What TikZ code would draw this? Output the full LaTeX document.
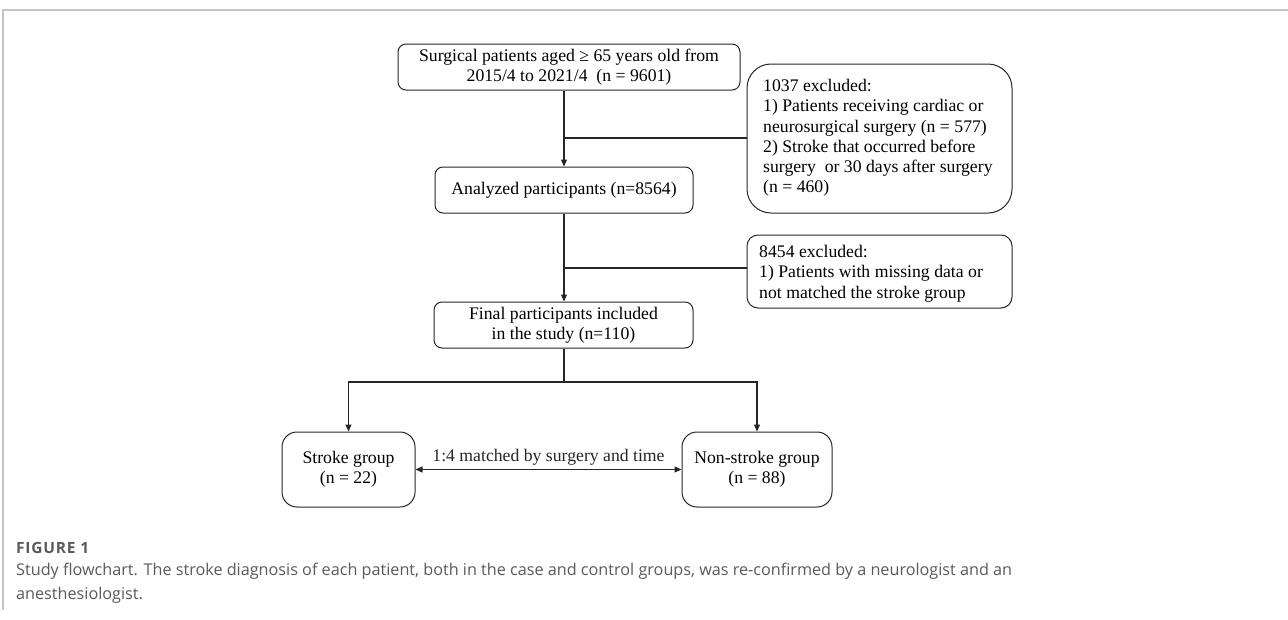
\documentclass[tikz,border=0pt]{standalone}
\usepackage{fontspec}
\setmainfont{Liberation Serif}
\newfontfamily\capfont{Open Sans}
\usepackage{tikz}
\usetikzlibrary{arrows.meta}
\definecolor{framegray}{HTML}{C4C4C4}
\definecolor{capgray}{HTML}{5A5A5A}
\definecolor{linegray}{HTML}{262626}
\tikzset{every node/.style={font=\fontsize{17.7}{20.3}\selectfont},
  flow/.style={linegray,line width=1.2pt,-{Triangle[length=7pt,width=6pt]}},
  link/.style={linegray,line width=1.2pt}}
\newcommand{\boxnode}{\node[draw=linegray,line width=1pt,rounded corners=8pt,align=center,inner sep=0pt]}
\newcommand{\exclnode}{\node[draw=linegray,line width=1pt,align=left,inner sep=0pt,text depth=0pt]}

\begin{document}
\begin{tikzpicture}[x=1pt,y=-1pt]
      \useasboundingbox (0,0) rectangle (1288,619);
      \draw[framegray,line width=2pt] (3,610) -- (3,10) -- (1288,10); % frame
      \boxnode[minimum width=342pt,minimum height=46pt] (all) at (569,67) {Surgical patients aged ≥ 65 years old from\\2015/4 to 2021/4\ \ (n = 9601)};
      \exclnode[rounded corners=24pt,minimum width=265pt,minimum height=149pt] (excl1) at (879.5,138.5) {};
      \node[anchor=north west,align=left,inner sep=0pt] (excltext1) at (763,79) {1037 excluded:\\1) Patients receiving cardiac or\\neurosurgical surgery (n = 577)\\2) Stroke that occurred before\\surgery\ \ or 30 days after surgery\\(n = 460)};
      \boxnode[minimum width=258pt,minimum height=46pt] (analyzed) at (564,190) {Analyzed participants (n=8564)};
      \exclnode[rounded corners=11pt,minimum width=265pt,minimum height=73pt] (excl2) at (879.5,271.5) {};
      \node[anchor=north west,align=left,inner sep=0pt] (excltext2) at (759,245) {8454 excluded:\\1) Patients with missing data or\\not matched the stroke group};
      \boxnode[minimum width=259pt,minimum height=46pt] (final) at (563.5,325) {Final participants included\\in the study (n=110)};
      \boxnode[rounded corners=15pt,minimum width=133pt,minimum height=75pt] (stroke) at (348.5,469.5) {Stroke group\\(n = 22)};
      \boxnode[rounded corners=15pt,minimum width=150pt,minimum height=75pt] (nonstroke) at (757,469.5) {Non-stroke group\\(n = 88)};
      \coordinate (cut1) at (564,138);
      \coordinate (cut2) at (564,268);
      \coordinate (split) at (564,382);
      \draw[flow] (all.south -| cut1) -- (analyzed.north -| cut1);
      \draw[link] (excl1.west |- cut1) -- (cut1);
      \draw[flow] (analyzed.south -| cut2) -- (final.north -| cut2);
      \draw[link] (excl2.west |- cut2) -- (cut2);
      \draw[link] (final.south -| split) -- (split);
      \draw[flow] (split) -| (stroke.north);
      \draw[flow] (split) -| (nonstroke.north);
      \draw[linegray,line width=1.2pt,{Triangle[length=7pt,width=6pt]}-{Triangle[length=7pt,width=6pt]}] (stroke.east) -- node[above=0pt] (matchlabel) {1:4 matched by surgery and time} (nonstroke.west);
      \node[anchor=west,inner sep=0pt,text=capgray,font=\capfont\bfseries\fontsize{15.5}{18}\selectfont\addfontfeature{LetterSpace=5}] (figlabel) at (16,548) {FIGURE 1};
      \node[anchor=north west,align=left,inner sep=0pt,text=capgray,font=\capfont\fontsize{16.2}{24}\selectfont] (caption) at (16,563) {Study flowchart. The stroke diagnosis of each patient, both in the case and control groups, was re-confirmed by a neurologist and an\\anesthesiologist.};
\end{tikzpicture}
\end{document}
